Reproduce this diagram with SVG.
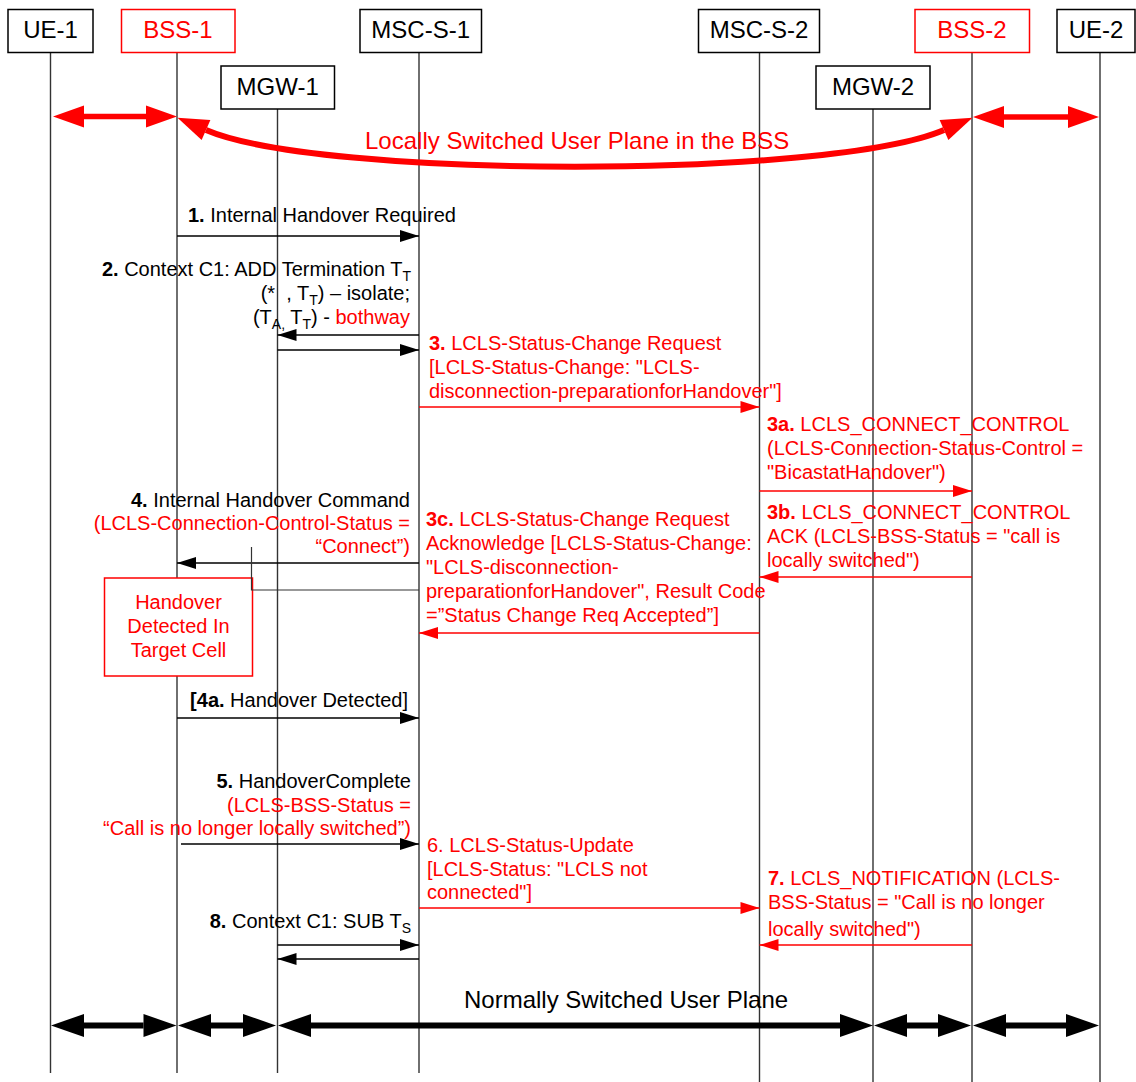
<svg xmlns="http://www.w3.org/2000/svg" width="1136" height="1082" viewBox="0 0 1136 1082">
<style>
text{font-family:"Liberation Sans",Arial,sans-serif;font-size:20px;fill:#000}
.h{font-size:24px}
.r{fill:#f00}
.b{font-weight:bold}
.sub{font-size:14px}
.box{fill:#fff;stroke:#000;stroke-width:1.5}
.rbox{fill:#fff;stroke:#f00;stroke-width:1.5}
.life{stroke:#333;stroke-width:1.4;fill:none}
.msg{stroke:#000;stroke-width:1.4;fill:none;marker-end:url(#ah)}
.rmsg{stroke:#f00;stroke-width:1.5;fill:none;marker-end:url(#rah)}
.thin{stroke:#333;stroke-width:1.2;fill:none}
.rbig{stroke:#f00;stroke-width:5.5;fill:none;marker-start:url(#rbh);marker-end:url(#rbh)}
.kbig{stroke:#000;stroke-width:6;fill:none;marker-start:url(#kbh);marker-end:url(#kbh)}
</style>
<defs>
<marker id="ah" markerUnits="userSpaceOnUse" markerWidth="19" markerHeight="12" refX="19" refY="6" orient="auto" overflow="visible"><path d="M0,0 L19,6 L0,12 z" fill="#000"/></marker>
<marker id="rah" markerUnits="userSpaceOnUse" markerWidth="19" markerHeight="12" refX="19" refY="6" orient="auto" overflow="visible"><path d="M0,0 L19,6 L0,12 z" fill="#f00"/></marker>
<marker id="rbh" markerUnits="userSpaceOnUse" markerWidth="31" markerHeight="22" refX="0" refY="11" orient="auto-start-reverse" overflow="visible"><path d="M0,0 L31,11 L0,22 z" fill="#f00"/></marker>
<marker id="kbh" markerUnits="userSpaceOnUse" markerWidth="33" markerHeight="23" refX="0" refY="11.5" orient="auto-start-reverse" overflow="visible"><path d="M0,0 L33,11.5 L0,23 z" fill="#000"/></marker>
</defs>
<rect width="1136" height="1082" fill="#fff"/>

<g id="UE-1">
<line class="life" x1="50.5" y1="52" x2="50.5" y2="1073"/>
<rect class="box" x="8" y="9.5" width="85" height="43"/>
<text class="h" x="50.5" y="38" text-anchor="middle">UE-1</text>
</g>
<g id="BSS-1">
<line class="life" x1="177" y1="52" x2="177" y2="1073"/>
<rect class="rbox" x="121.5" y="9.5" width="113.5" height="43"/>
<text class="h r" x="178" y="38" text-anchor="middle">BSS-1</text>
</g>
<g id="MGW-1">
<line class="life" x1="277.5" y1="109" x2="277.5" y2="1073"/>
<rect class="box" x="221" y="66" width="113.5" height="43"/>
<text class="h" x="277.7" y="94.5" text-anchor="middle">MGW-1</text>
</g>
<g id="MSC-S-1">
<line class="life" x1="419" y1="52" x2="419" y2="1073"/>
<rect class="box" x="360" y="9.5" width="121.5" height="43"/>
<text class="h" x="420.7" y="38" text-anchor="middle">MSC-S-1</text>
</g>
<g id="MSC-S-2">
<line class="life" x1="759.5" y1="52" x2="759.5" y2="1082"/>
<rect class="box" x="698.5" y="9.5" width="121" height="43"/>
<text class="h" x="759" y="38" text-anchor="middle">MSC-S-2</text>
</g>
<g id="MGW-2">
<line class="life" x1="873" y1="109" x2="873" y2="1082"/>
<rect class="box" x="816" y="66" width="114" height="43"/>
<text class="h" x="873" y="94.5" text-anchor="middle">MGW-2</text>
</g>
<g id="BSS-2">
<line class="life" x1="972" y1="52" x2="972" y2="1082"/>
<rect class="rbox" x="915" y="9.5" width="114.5" height="43"/>
<text class="h r" x="972" y="38" text-anchor="middle">BSS-2</text>
</g>
<g id="UE-2">
<line class="life" x1="1100" y1="52" x2="1100" y2="1082"/>
<rect class="box" x="1057" y="9.5" width="78" height="43"/>
<text class="h" x="1096" y="38" text-anchor="middle">UE-2</text>
</g>
<g id="HandoverDetected">
<rect class="rbox" x="104.5" y="578" width="148" height="98"/>
<text class="r" x="178.5" y="609" text-anchor="middle">Handover</text>
<text class="r" x="178.5" y="633" text-anchor="middle">Detected In</text>
<text class="r" x="178.5" y="657" text-anchor="middle">Target Cell</text>
</g>

<g id="connectors">
<line class="rbig" x1="84" y1="116.5" x2="146" y2="116.5"/>
<line class="rbig" x1="1004" y1="117" x2="1068" y2="117"/>
<path class="rbig" style="stroke-width:6" d="M206,130 C320,179 830,179 944,130"/>
<line class="msg" x1="177" y1="236" x2="419" y2="236"/>
<line class="msg" x1="419" y1="335" x2="277.5" y2="335"/>
<line class="msg" x1="277.5" y1="350" x2="419" y2="350"/>
<line class="rmsg" x1="419" y1="407" x2="759.5" y2="407"/>
<line class="rmsg" x1="759.5" y1="491" x2="972" y2="491"/>
<line class="rmsg" x1="972" y1="577" x2="759.5" y2="577"/>
<line class="msg" x1="419" y1="563" x2="177" y2="563"/>
<polyline class="thin" points="251.5,547 251.5,590 419,590"/>
<line class="rmsg" x1="759.5" y1="633" x2="419" y2="633"/>
<line class="msg" x1="177" y1="718" x2="419" y2="718"/>
<line class="msg" x1="181" y1="844" x2="419" y2="844"/>
<line class="rmsg" x1="419" y1="908" x2="759.5" y2="908"/>
<line class="rmsg" x1="972" y1="945" x2="759.5" y2="945"/>
<line class="msg" x1="277.5" y1="945" x2="419" y2="945"/>
<line class="msg" x1="419" y1="959" x2="277.5" y2="959"/>
<line class="kbig" x1="84" y1="1025.5" x2="143.5" y2="1025.5"/>
<line class="kbig" x1="211" y1="1025.5" x2="243" y2="1025.5"/>
<line class="kbig" x1="311" y1="1025.5" x2="840" y2="1025.5"/>
<line class="kbig" x1="907" y1="1025.5" x2="938" y2="1025.5"/>
<line class="kbig" x1="1006" y1="1025.5" x2="1066" y2="1025.5"/>
</g>

<g id="labels">
<text class="h r" x="365" y="149">Locally Switched User Plane in the BSS</text>
<text class="h" x="464" y="1008">Normally Switched User Plane</text>

<text x="188" y="221.5"><tspan class="b">1.</tspan> Internal Handover Required</text>

<text x="411" y="276" text-anchor="end"><tspan class="b">2.</tspan> Context C1: ADD Termination T<tspan class="sub" dy="5">T</tspan></text>
<text x="410" y="300" text-anchor="end">(*&#160;&#160;, T<tspan class="sub" dy="5">T</tspan><tspan dy="-5">) – isolate;</tspan></text>
<text x="410" y="324" text-anchor="end">(T<tspan class="sub" dy="5">A,</tspan><tspan dy="-5"> T</tspan><tspan class="sub" dy="5">T</tspan><tspan dy="-5">) - </tspan><tspan class="r">bothway</tspan></text>

<text class="r" x="429" y="350"><tspan class="b r">3.</tspan> LCLS-Status-Change Request</text>
<text class="r" x="429" y="374">[LCLS-Status-Change: "LCLS-</text>
<text class="r" x="429" y="398">disconnection-preparationforHandover"]</text>

<text class="r" x="767" y="431"><tspan class="b r">3a.</tspan> LCLS_CONNECT_CONTROL</text>
<text class="r" x="767" y="455">(LCLS-Connection-Status-Control =</text>
<text class="r" x="767" y="479">"BicastatHandover")</text>

<text class="r" x="767" y="519"><tspan class="b r">3b.</tspan> LCLS_CONNECT_CONTROL</text>
<text class="r" x="767" y="543">ACK (LCLS-BSS-Status = "call is</text>
<text class="r" x="767" y="567">locally switched")</text>

<text x="410" y="507" text-anchor="end"><tspan class="b">4.</tspan> Internal Handover Command</text>
<text class="r" x="410" y="530" text-anchor="end">(LCLS-Connection-Control-Status =</text>
<text class="r" x="410" y="553" text-anchor="end">“Connect”)</text>

<text class="r" x="426" y="526"><tspan class="b r">3c.</tspan> LCLS-Status-Change Request</text>
<text class="r" x="426" y="550">Acknowledge [LCLS-Status-Change:</text>
<text class="r" x="426" y="574">"LCLS-disconnection-</text>
<text class="r" x="426" y="598">preparationforHandover", Result Code</text>
<text class="r" x="426" y="622">=”Status Change Req Accepted”]</text>

<text x="408" y="707" text-anchor="end"><tspan class="b">[4a.</tspan> Handover Detected]</text>

<text x="411" y="788" text-anchor="end"><tspan class="b">5.</tspan> HandoverComplete</text>
<text class="r" x="411" y="812" text-anchor="end">(LCLS-BSS-Status =</text>
<text class="r" x="411" y="835" text-anchor="end">“Call is no longer locally switched”)</text>

<text class="r" x="427" y="852">6. LCLS-Status-Update</text>
<text class="r" x="427" y="876">[LCLS-Status: "LCLS not</text>
<text class="r" x="427" y="899">connected"]</text>

<text class="r" x="768" y="885"><tspan class="b r">7.</tspan> LCLS_NOTIFICATION (LCLS-</text>
<text class="r" x="768" y="909">BSS-Status = "Call is no longer</text>
<text class="r" x="768" y="936">locally switched")</text>

<text x="411" y="928" text-anchor="end"><tspan class="b">8.</tspan> Context C1: SUB T<tspan class="sub" dy="5">S</tspan></text>
</g>
</svg>
